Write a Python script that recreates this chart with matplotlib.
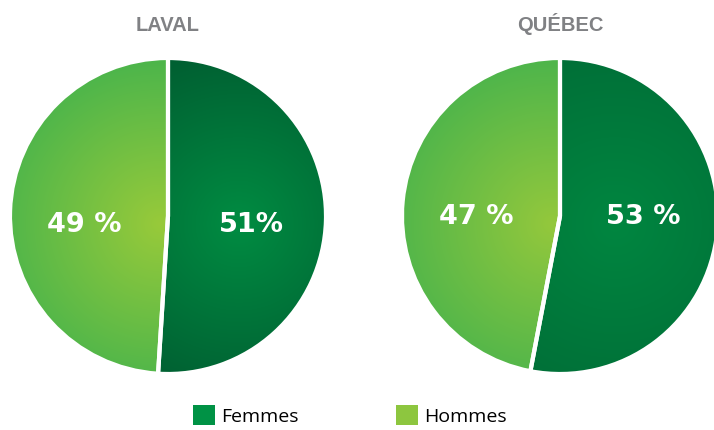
import numpy as np
import matplotlib
matplotlib.use('Agg')
from matplotlib import pyplot as plt
from matplotlib.patches import Patch

# data
regions = ['LAVAL', 'QUÉBEC']
categories = ['Femmes', 'Hommes']
laval_values = [51, 49]
quebec_values = [53, 47]
laval_labels = ['51%', '49 %']
quebec_labels = ['53 %', '47 %']

legend_colors = ['#009245', '#8DC63F']
# (inner, outer, gradient centre) per wedge
laval_grad = [((0, 140, 66), (0, 96, 50), (0.45, -0.05)),
              ((152, 202, 58), (72, 180, 76), (-0.05, -0.05))]
quebec_grad = [((0, 134, 64), (0, 112, 56), (0.35, -0.05)),
               ((148, 200, 60), (74, 180, 76), (-0.05, -0.05))]


def gradient_image(inner, outer, centre, n=300):
    xs = np.linspace(-1, 1, n)
    gx, gy = np.meshgrid(xs, xs)
    t = np.clip(np.hypot(gx - centre[0], gy - centre[1]) / 1.1, 0, 1)[..., None]
    inner = np.array(inner) / 255.0
    outer = np.array(outer) / 255.0
    return inner * (1 - t) + outer * t


def draw_pie(ax, values, labels, grads, title, label_y):
    wedges, texts = ax.pie(values, labels=labels, startangle=90, counterclock=False,
                           labeldistance=0.53, colors=legend_colors,
                           wedgeprops=dict(edgecolor='white', linewidth=3),
                           textprops=dict(ha='center', va='center', color='white',
                                          fontweight='bold', fontsize=19.5,
                                          family='DejaVu Sans'))
    for w, (inner, outer, centre) in zip(wedges, grads):
        im = ax.imshow(gradient_image(inner, outer, centre), extent=(-1, 1, -1, 1),
                       origin='lower', zorder=1, interpolation='bilinear')
        im.set_clip_path(w)
        w.set_facecolor('none')
        w.set_zorder(2)
    # labels sit on one horizontal line in the reference
    for t in texts:
        x, _ = t.get_position()
        t.set_position((x, label_y))
        t.set_zorder(3)
    ax.set_xlim(-1, 1)
    ax.set_ylim(-1, 1)
    ax.set_aspect('equal')
    ax.axis('off')
    ax.set_title(title, pad=20, color='#808184', fontsize=14.5, fontweight='bold',
                 family=['Liberation Sans Narrow', 'Liberation Sans'])


W, H = 714, 431
fig = plt.figure(figsize=(W / 100, H / 100), dpi=100)
ax1 = fig.add_axes([10 / W, 56 / H, 316 / W, 316 / H])
ax2 = fig.add_axes([402 / W, 56 / H, 316 / W, 316 / H])

draw_pie(ax1, laval_values, laval_labels, laval_grad, regions[0], -0.05)
draw_pie(ax2, quebec_values, quebec_labels, quebec_grad, regions[1], 0.0)

handles = [Patch(facecolor=c, edgecolor='none') for c in legend_colors]
fig.legend(handles, categories, loc='lower center', bbox_to_anchor=(0.49, -0.012),
           ncol=2, frameon=False, handlelength=1.15, handleheight=1.15,
           handletextpad=0.3, columnspacing=5.0, borderpad=0,
           prop=dict(family='Open Sans', size=14))

fig.savefig('out.png', dpi=100)
